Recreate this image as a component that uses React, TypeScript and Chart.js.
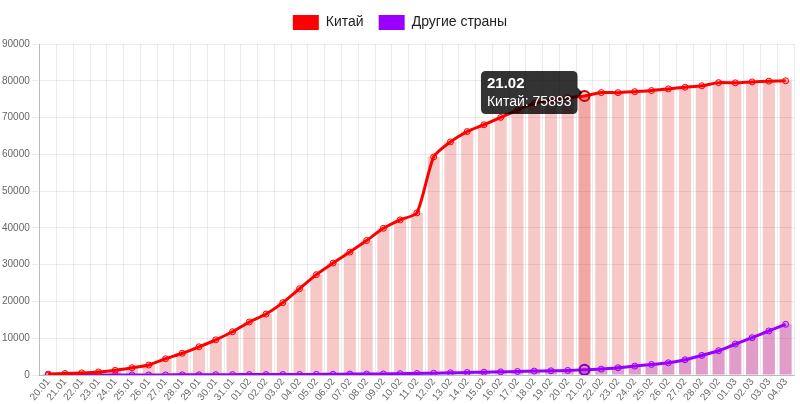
import React, { useEffect, useRef } from "react";
import { Chart, registerables } from "chart.js";

Chart.register(...registerables);

const dateLabels = [
  "20.01", "21.01", "22.01", "23.01", "24.01", "25.01", "26.01", "27.01", "28.01", "29.01", "30.01", "31.01",
  "01.02", "02.02", "03.02", "04.02", "05.02", "06.02", "07.02", "08.02", "09.02", "10.02", "11.02", "12.02",
  "13.02", "14.02", "15.02", "16.02", "17.02", "18.02", "19.02", "20.02", "21.02", "22.02", "23.02", "24.02",
  "25.02", "26.02", "27.02", "28.02", "29.02", "01.03", "02.03", "03.03", "04.03",
];

const chinaCases = [
  280, 440, 600, 850, 1300, 2000, 2750, 4450, 5950, 7700, 9600, 11800,
  14450, 16600, 19700, 23500, 27300, 30450, 33450, 36600, 39900, 42200, 44100, 59300,
  63400, 66200, 68050, 70050, 72050, 73850, 74750, 75400, 75893, 76800, 76780, 77050,
  77350, 77800, 78250, 78650, 79500, 79450, 79700, 79900, 80000,
];

const otherCases = [
  4, 6, 10, 15, 25, 40, 50, 60, 75, 90, 110, 130,
  140, 150, 160, 180, 200, 220, 270, 290, 320, 400, 440, 520,
  630, 710, 800, 890, 980, 1090, 1170, 1270, 1450, 1630, 1990, 2450,
  2890, 3350, 4170, 5350, 6630, 8450, 10170, 12000, 13800,
];

const seriesNames = ["Китай", "Другие страны"];
const tooltipDate = "21.02";
const yMax = 90000;
const yStep = 10000;

export default function App() {
  const canvasRef = useRef<HTMLCanvasElement>(null);

  useEffect(() => {
    document.body.style.margin = "0";
    Chart.defaults.font.family = '"Helvetica Neue", Helvetica, Arial, "Liberation Sans", sans-serif';
    const lineColors = ["#ff0000", "#9900ff"];
    const chart = new Chart(canvasRef.current!, {
      type: "bar",
      data: {
        labels: dateLabels,
        datasets: [
          {
            type: "line",
            label: seriesNames[0],
            data: chinaCases,
            borderColor: lineColors[0],
            backgroundColor: lineColors[0],
            pointBackgroundColor: "rgba(255,0,0,0.2)",
            pointBorderColor: lineColors[0],
            pointHoverBackgroundColor: "rgba(255,0,0,0.2)",
            pointHoverBorderColor: "#cc0000",
            borderWidth: 3,
            pointRadius: 3,
            pointBorderWidth: 1,
            pointHoverRadius: 5,
            pointHoverBorderWidth: 2,
            tension: 0.2,
            order: 0,
          } as any,
          {
            type: "line",
            label: seriesNames[1],
            data: otherCases,
            borderColor: lineColors[1],
            backgroundColor: lineColors[1],
            pointBackgroundColor: "rgba(153,0,255,0.2)",
            pointBorderColor: lineColors[1],
            pointHoverBackgroundColor: "rgba(153,0,255,0.2)",
            pointHoverBorderColor: "#7a00cc",
            borderWidth: 3,
            pointRadius: 3,
            pointBorderWidth: 1,
            pointHoverRadius: 5,
            pointHoverBorderWidth: 2,
            tension: 0.2,
            order: 1,
          } as any,
          {
            type: "bar",
            label: seriesNames[0] + " (bar)",
            data: chinaCases,
            backgroundColor: "rgba(222,36,36,0.25)",
            hoverBackgroundColor: "rgba(222,36,36,0.4)",
            grouped: false,
            order: 3,
          } as any,
          {
            type: "bar",
            label: seriesNames[1] + " (bar)",
            data: otherCases,
            backgroundColor: "rgba(160,30,200,0.25)",
            hoverBackgroundColor: "rgba(160,30,200,0.4)",
            grouped: false,
            order: 2,
          } as any,
        ],
      },
      options: {
        animation: false,
        responsive: true,
        maintainAspectRatio: false,
        layout: { padding: { left: 0, right: 0, top: 0, bottom: 0 } },
        plugins: {
          legend: {
            position: "top",
            labels: {
              boxWidth: 26,
              boxHeight: 15,
              color: "#222",
              font: { size: 14 },
              padding: 15,
              generateLabels: () =>
                seriesNames.map((name, i) => ({
                  text: name,
                  fillStyle: lineColors[i],
                  strokeStyle: lineColors[i],
                  lineWidth: 0,
                  hidden: false,
                  datasetIndex: i,
                  fontColor: "#222",
                })) as any,
            },
          },
          tooltip: {
            mode: "nearest",
            intersect: true,
            displayColors: false,
            backgroundColor: "rgba(0,0,0,0.8)",
            titleFont: { size: 15, weight: "bold", lineHeight: 1 },
            bodyFont: { size: 14, lineHeight: 1 },
            titleMarginBottom: 4,
            padding: { top: 5, bottom: 5, left: 6, right: 6 } as any,
            cornerRadius: 5,
            callbacks: {
              label: (ctx: any) => `${ctx.dataset.label}: ${ctx.parsed.y}`,
            },
          },
        },
        scales: {
          x: {
            grid: { color: "rgba(0,0,0,0.08)", offset: true, drawTicks: false },
            border: { color: "rgba(0,0,0,0.2)" },
            ticks: { color: "#666", font: { size: 10 }, autoSkip: false, maxRotation: 50, padding: 1 },
          },
          y: {
            min: 0,
            max: yMax,
            grid: { color: "rgba(0,0,0,0.08)" },
            border: { color: "rgba(0,0,0,0.2)" },
            ticks: {
              color: "#666",
              font: { size: 10 },
              stepSize: yStep,
              padding: 2,
              callback: (v: any) => String(v),
            },
          },
        },
      },
    });

    const legend: any = chart.legend;
    if (legend) {
      const origFit = legend.fit;
      legend.fit = function (this: any) {
        origFit.call(this);
        this.height += 4;
      };
    }

    const idx = dateLabels.indexOf(tooltipDate);
    chart.setActiveElements([
      { datasetIndex: 0, index: idx },
      { datasetIndex: 1, index: idx },
      { datasetIndex: 2, index: idx },
    ]);
    chart.tooltip!.setActiveElements([{ datasetIndex: 0, index: idx }], { x: 0, y: 0 });
    chart.update();

    return () => chart.destroy();
  }, []);

  return (
    <div style={{ position: "absolute", left: 0, top: 0, width: 800, height: 404 }}>
      <canvas ref={canvasRef} />
    </div>
  );
}
